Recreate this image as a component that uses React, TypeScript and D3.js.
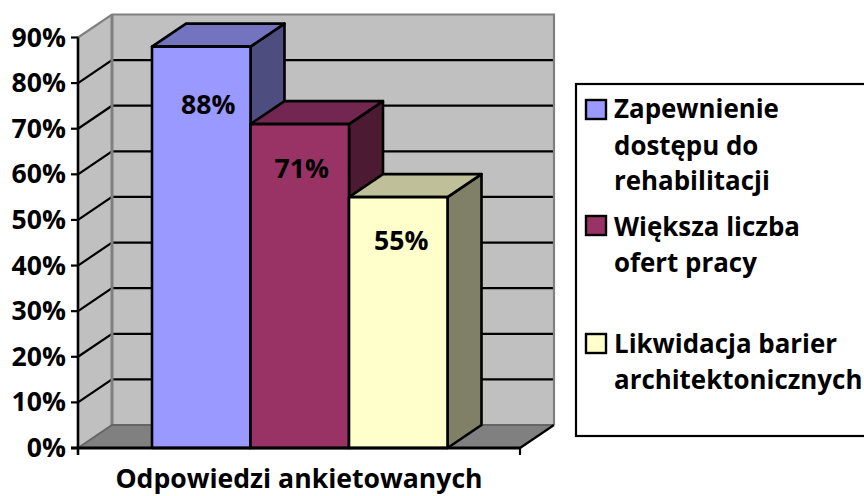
import React from "react";
import * as d3 from "d3";

const categories = ["Zapewnienie dostępu do rehabilitacji", "Większa liczba ofert pracy", "Likwidacja barier architektonicznych"];
const values = [88, 71, 55];
const valueLabels = ["88%", "71%", "55%"];
const frontColors = ["#9999ff", "#993366", "#ffffcc"];
const topColors = ["#7373bf", "#732650", "#bfbf99"];
const sideColors = ["#4d4d80", "#4d1a33", "#808066"];
const ticks = [0, 10, 20, 30, 40, 50, 60, 70, 80, 90];
const axisTitle = "Odpowiedzi ankietowanych";
const legendLines = [["Zapewnienie", "dostępu do", "rehabilitacji"], ["Większa liczba", "ofert pracy"], ["Likwidacja barier", "architektonicznych"]];
const legendY = [110, 226, 344];
const legendTextY = [[118, 155, 190], [236, 272], [353, 389]];
const labelDx = [7, 2, 3];
const labelDy = [67, 54, 53];

const FONT = "'Open Sans', sans-serif";
const DX = 34, DY = -23;
const FS = 26.6;
const LEGEND_FS = 25.9;

export default function App() {
  const y = d3.scaleLinear().domain([0, 90]).range([448, 37.5]);
  const band = d3.scaleBand<number>().domain([0, 1, 2]).range([152, 447.5]);
  const x0 = 78, x1 = 520;
  const y0 = y(0), yt = y(90);
  const pts = (a: number[][]) => a.map(p => p.join(",")).join(" ");
  return (
    <svg width={864} height={496} style={{ position: "fixed", left: 0, top: 0, fontFamily: FONT, fontWeight: 700 }}>
      <rect width={864} height={496} fill="#fff" />
      <polygon points={pts([[x0 + DX, yt + DY], [x1 + DX, yt + DY], [x1 + DX, y0 + DY], [x0 + DX, y0 + DY]])} fill="#c0c0c0" />
      <polygon points={pts([[x0, yt], [x0 + DX, yt + DY], [x0 + DX, y0 + DY], [x0, y0]])} fill="#c0c0c0" />
      <polygon points={pts([[x0, y0], [x0 + DX, y0 + DY], [x1 + DX, y0 + DY], [x1, y0]])} fill="#808080" />
      {ticks.slice(1, -1).map(t => (
        <polyline key={t} points={pts([[x0, y(t)], [x0 + DX, y(t) + DY], [x1 + DX, y(t) + DY]])} fill="none" stroke="#000" strokeWidth={2.2} />
      ))}
      <polyline points={pts([[x0, yt], [x0 + DX, yt + DY], [x1 + DX, yt + DY], [x1 + DX, y0 + DY]])} fill="none" stroke="#808080" strokeWidth={2.2} />
      <line x1={x0 + DX} y1={yt + DY} x2={x0 + DX} y2={y0 + DY} stroke="#808080" strokeWidth={3} />
      <polyline points={pts([[x0, y0], [x0 + DX, y0 + DY], [x1 + DX, y0 + DY]])} fill="none" stroke="#666" strokeWidth={2} />
      <line x1={x1} y1={y0} x2={x1 + DX} y2={y0 + DY} stroke="#000" strokeWidth={2.2} />
      {values.map((v, i) => {
        const l = band(i)!, r = l + band.bandwidth(), t = y(v);
        return (
          <g key={i} stroke="#000" strokeWidth={2.6} strokeLinejoin="round">
            <polygon points={pts([[r, t], [r + DX, t + DY], [r + DX, y0 + DY], [r, y0]])} fill={sideColors[i]} />
            <polygon points={pts([[l, t], [l + DX, t + DY], [r + DX, t + DY], [r, t]])} fill={topColors[i]} />
            <rect x={l} y={t} width={r - l} height={y0 - t} fill={frontColors[i]} />
          </g>
        );
      })}
      {values.map((v, i) => (
        <text key={i} x={band(i)! + band.bandwidth() / 2 + labelDx[i]} y={y(v) + labelDy[i]} textAnchor="middle" fontSize={FS} fill="#000">{valueLabels[i]}</text>
      ))}
      <line x1={x0} y1={yt} x2={x0} y2={y0 + 7} stroke="#000" strokeWidth={2.6} />
      <line x1={x0 - 7} y1={y0} x2={x1} y2={y0} stroke="#000" strokeWidth={2.8} />
      <line x1={x1} y1={y0} x2={x1} y2={y0 + 7} stroke="#000" strokeWidth={2.2} />
      {ticks.map(t => (
        <g key={t}>
          <line x1={x0 - 7} y1={y(t)} x2={x0} y2={y(t)} stroke="#000" strokeWidth={2.2} />
          <text x={66} y={y(t) + 9} textAnchor="end" fontSize={FS} fill="#000">{t}%</text>
        </g>
      ))}
      <text x={299} y={488} textAnchor="middle" fontSize={FS} fill="#000">{axisTitle}</text>
      <rect x={576} y={84} width={300} height={352} fill="#fff" stroke="#000" strokeWidth={2.2} />
      {categories.map((c, i) => (
        <g key={c}>
          <rect x={586} y={legendY[i] - 10} width={20} height={19} fill={frontColors[i]} stroke="#000" strokeWidth={2.4} />
          {legendLines[i].map((ln, j) => (
            <text key={j} x={614} y={legendTextY[i][j]} fontSize={LEGEND_FS} fill="#000">{ln}</text>
          ))}
        </g>
      ))}
    </svg>
  );
}
